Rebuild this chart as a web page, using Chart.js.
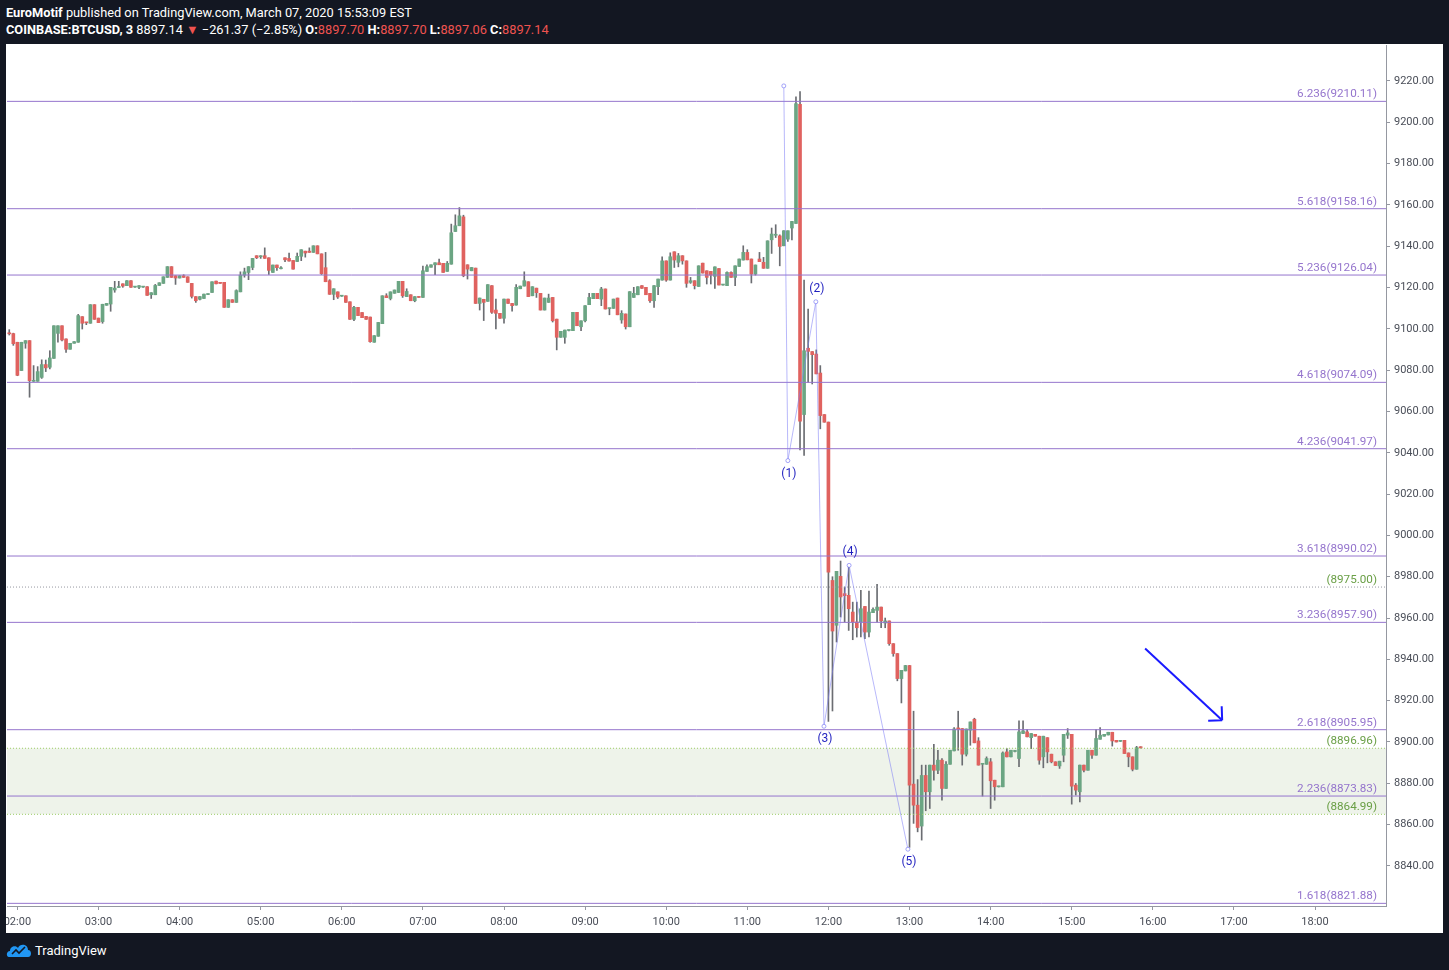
<!DOCTYPE html>
<html>
<head>
<meta charset="utf-8">
<script src="https://cdn.jsdelivr.net/npm/chart.js@4.4.1/dist/chart.umd.min.js"></script>
<style>
  html, body { margin: 0; padding: 0; background: #131722; width: 1449px; height: 970px; overflow: hidden; }
  #head { position: absolute; left: 6px; top: 4px; color: #fff; font: 12.8px Roboto, "Liberation Sans", sans-serif; line-height: 17px; white-space: nowrap; }
  #head b { font-weight: bold; }
  .dn { color: #ef5350; }
  #box { position: absolute; left: 6px; top: 44px; width: 1437px; height: 889px; background: #fff; }
  #box canvas { display: block; }
  #foot { position: absolute; left: 6px; top: 941px; color: #fff; font: 13px Roboto, "Liberation Sans", sans-serif; display: flex; align-items: center; }
  #foot svg { margin-right: 3px; }
</style>
</head>
<body>
<div id="head">
  <div><b>EuroMotif</b> published on TradingView.com, March 07, 2020 15:53:09 EST</div>
  <div><b>COINBASE:BTCUSD, 3</b> 8897.14 <span class="dn">▼</span> −261.37 (−2.85%) <b>O:</b><span class="dn">8897.70</span> <b>H:</b><span class="dn">8897.70</span> <b>L:</b><span class="dn">8897.06</span> <b>C:</b><span class="dn">8897.14</span></div>
</div>
<div id="box"><canvas id="chart" width="1437" height="889"></canvas></div>
<div id="foot">
  <svg width="26" height="18" viewBox="0 0 26 18">
    <path d="M3 16 C0 16 0 10 4 10 C4 5 10 4 12 7 C14 2 22 3 22 9 C26 9 26 16 22 16 Z" fill="#2196f3"/>
    <path d="M6 13 L10 9 L13 12 L19 6" stroke="#131722" stroke-width="1.6" fill="none"/>
  </svg>
  <span>TradingView</span>
</div>
<script>
// 3-minute candles, x in bar units where 0 = 02:00
const firstBar = -2;
const opens = [
  9097.9,9097.7,9093.5,9079.8,9093.0,9094.3,9074.6,9074.6,9076.5,9082.7,9081.4,9085.7,9097.8,9101.5,9095.1,9090.1,9093.0,9093.5,9105.9,9103.2,9102.7,9111.7,9105.2,9103.5,
  9111.4,9112.0,9118.8,9120.0,9121.8,9120.9,9123.3,9120.2,9120.1,9120.2,9120.4,9116.5,9116.5,9121.0,9122.0,9124.9,9130.1,9125.7,9124.6,9125.7,9125.2,9122.0,9115.6,9114.3,
  9114.7,9116.6,9117.6,9123.1,9122.5,9122.5,9110.4,9114.1,9112.8,9117.9,9126.0,9127.3,9129.7,9135.4,9134.9,9135.4,9134.4,9127.3,9130.9,9129.1,9134.4,9134.1,9133.1,
  9132.6,9135.1,9137.6,9137.6,9137.0,9140.2,9136.3,9129.6,9123.3,9116.7,9117.9,9115.8,9116.0,9113.1,9104.6,9110.4,9107.9,9106.0,9105.7,9093.5,9096.4,9102.5,9116.0,9114.7,
  9117.2,9117.6,9123.0,9115.6,9116.5,9113.6,9115.5,9115.2,9127.8,9129.8,9131.0,9132.0,9131.7,9127.8,9131.3,9147.1,9149.9,9154.2,9131.0,9128.1,9129.4,9112.3,9114.3,
  9113.3,9120.9,9109.1,9107.5,9105.1,9114.4,9112.3,9111.5,9119.4,9120.7,9122.8,9116.0,9119.7,9117.2,9109.1,9112.8,9115.2,9104.7,9095.9,9095.9,9099.2,9099.1,9108.0,
  9101.0,9103.9,9111.7,9114.6,9117.2,9114.4,9119.3,9109.8,9109.9,9114.9,9104.3,9107.2,9101.0,9115.2,9116.5,9120.9,9120.1,9117.2,9113.6,9120.4,9123.6,9132.9,9123.6,9137.3,9132.2,
  9135.4,9132.9,9122.5,9123.3,9120.5,9131.8,9128.1,9127.8,9125.4,9129.2,9121.2,9120.9,9127.3,9124.9,9130.2,9133.3,9137.0,9133.8,9126.5,9133.8,9132.2,9129.3,9143.1,9145.3,9145.0,
  9140.2,9143.4,9148.8,9151.0,9208.7,9058.5,9090.6,9089.0,9087.8,9078.6,9058.5,9054.8,
  8978.2,8956.5,8980.2,8971.8,8971.0,8962.9,8958.1,8958.1,8965.6,8953.2,8962.6,8963.7,8965.3,8957.6,8958.6,8947.6,8942.8,8930.7,8934.4,8937.0,
  8879.6,8869.4,8859.3,8883.8,8875.9,8888.8,8886.3,8891.2,8877.5,8889.2,8895.7,8906.8,8906.5,8894.1,8905.7,8911.0,8900.5,8889.2,8889.2,8890.4,8881.5,
  8878.3,8878.3,8895.2,8892.8,8895.4,8892.0,8904.1,8904.9,8902.1,8903.7,8902.8,8892.8,8902.1,8894.1,8890.4,8888.4,8893.6,8903.3,8903.7,8879.1,8875.9,8888.8,8886.3,8896.0,
  8893.6,8901.3,8902.8,8903.4,8904.7,8900.8,8900.3,8900.8,8894.7,8892.8,8886.8,8897.70
];
const highs = [
  9099.6,9097.9,9093.5,9093.5,9094.3,9094.3,9082.2,9081.7,9085.0,9084.9,9089.4,9101.5,9101.5,9101.5,9095.1,9093.0,9093.8,9107.0,9105.9,9103.2,9111.7,9111.7,9105.2,9111.9,
  9112.3,9120.1,9123.0,9123.0,9121.8,9123.3,9123.3,9120.4,9120.9,9120.4,9120.4,9117.5,9121.5,9122.3,9125.2,9130.1,9130.1,9125.7,9125.7,9126.2,9125.2,9122.0,9115.6,9115.6,
  9116.8,9116.9,9122.8,9123.1,9122.5,9122.5,9114.1,9114.1,9118.9,9127.6,9129.4,9130.1,9134.1,9135.4,9135.4,9139.2,9134.4,9130.9,9130.9,9130.1,9134.4,9136.7,9133.1,
  9136.7,9138.3,9137.6,9139.2,9140.2,9140.2,9136.3,9137.0,9123.8,9119.4,9117.9,9116.0,9116.0,9113.1,9110.9,9110.4,9107.9,9106.0,9105.7,9096.7,9103.1,9116.0,9117.0,9117.9,
  9118.8,9123.0,9123.0,9119.4,9116.5,9115.6,9115.6,9130.4,9131.0,9131.0,9132.0,9133.8,9131.7,9132.6,9150.7,9155.2,9158.7,9155.0,9131.0,9129.7,9129.4,9114.9,9114.3,
  9121.4,9120.9,9114.4,9107.5,9114.4,9114.4,9112.3,9121.4,9120.7,9127.6,9122.8,9120.4,9119.7,9117.2,9114.9,9116.8,9115.2,9104.7,9098.8,9099.4,9099.4,9108.0,9108.0,
  9103.9,9111.2,9117.2,9117.2,9117.2,9120.1,9119.3,9110.0,9114.4,9114.9,9108.8,9107.2,9118.0,9120.1,9120.4,9120.9,9120.1,9117.2,9120.9,9124.1,9134.9,9132.9,9136.8,9137.3,9136.5,
  9135.4,9132.9,9124.9,9123.3,9130.5,9131.8,9128.1,9127.8,9130.0,9129.2,9121.4,9127.6,9127.6,9130.5,9133.8,9140.2,9138.3,9133.8,9130.9,9137.0,9134.6,9142.6,9148.8,9150.4,9145.5,
  9147.5,9147.5,9152.0,9212.3,9214.8,9123.6,9109.6,9089.0,9089.8,9082.2,9058.5,9054.8,
  8980.0,8982.6,8987.6,8975.0,8985.5,8967.7,8967.7,8973.4,8965.6,8973.1,8965.0,8976.3,8965.3,8960.0,8958.6,8947.6,8942.8,8934.7,8937.1,8937.1,
  8914.9,8881.8,8888.8,8888.8,8888.8,8898.9,8896.0,8892.0,8890.5,8896.0,8907.0,8914.9,8906.5,8906.3,8909.7,8911.5,8902.1,8889.5,8892.8,8892.0,8881.5,
  8878.6,8895.2,8896.8,8896.0,8896.0,8910.2,8910.2,8906.0,8904.1,8903.7,8902.8,8902.8,8902.1,8894.1,8890.4,8890.7,8903.7,8906.5,8903.7,8879.9,8888.8,8888.8,8896.0,8896.0,
  8906.0,8907.0,8903.7,8904.7,8904.7,8900.8,8900.6,8900.8,8894.7,8892.8,8897.9,8897.70
];
const lows = [
  9097.0,9092.0,9077.3,9079.8,9090.6,9066.9,9074.5,9074.6,9076.0,9079.3,9080.6,9085.7,9093.5,9094.2,9088.6,9090.1,9093.0,9093.5,9099.9,9102.0,9102.7,9104.6,9103.0,9102.7,
  9111.4,9108.5,9117.7,9120.0,9120.1,9120.9,9120.1,9120.0,9119.4,9120.0,9116.2,9114.7,9116.5,9121.0,9122.0,9124.9,9124.9,9121.5,9124.6,9124.9,9122.5,9114.9,9112.8,9114.0,
  9114.7,9116.5,9117.6,9121.8,9122.0,9110.4,9110.4,9112.8,9112.8,9117.9,9125.0,9123.8,9128.6,9134.0,9134.1,9134.1,9126.3,9127.3,9128.3,9129.0,9132.5,9132.8,9128.9,
  9132.6,9133.0,9134.7,9137.0,9137.0,9136.3,9126.3,9122.8,9116.7,9114.1,9114.7,9115.7,9112.8,9104.6,9104.0,9106.4,9105.4,9104.6,9093.5,9093.5,9096.4,9102.5,9115.1,9114.0,
  9117.2,9117.6,9115.2,9115.6,9113.6,9113.1,9115.2,9115.2,9127.8,9129.8,9126.2,9131.0,9127.3,9127.8,9131.3,9147.1,9149.9,9125.2,9124.1,9128.1,9112.3,9109.1,9104.0,
  9113.3,9107.5,9099.9,9105.1,9102.7,9112.3,9108.5,9111.5,9119.4,9120.7,9115.6,9116.0,9115.2,9109.1,9109.1,9112.8,9103.3,9089.8,9095.9,9093.0,9099.0,9099.1,9101.5,
  9099.1,9103.4,9111.7,9114.6,9114.6,9111.2,9109.6,9106.8,9109.9,9106.8,9102.7,9099.9,9101.0,9115.2,9116.5,9119.6,9116.5,9112.8,9110.4,9116.5,9123.6,9123.0,9123.6,9129.7,9130.0,
  9131.3,9120.1,9122.0,9119.3,9120.5,9127.0,9121.7,9121.7,9119.6,9121.2,9121.1,9120.9,9124.9,9120.9,9130.2,9133.3,9133.4,9122.2,9126.0,9132.5,9129.3,9129.3,9136.5,9144.2,9130.5,
  9140.2,9142.3,9143.0,9151.0,9041.4,9038.7,9074.1,9073.3,9078.2,9051.6,9054.8,8910.0,
  8915.0,8948.4,8960.5,8958.1,8954.0,8949.5,8950.8,8950.8,8950.0,8950.8,8962.6,8958.1,8955.3,8955.3,8946.8,8941.5,8929.6,8918.9,8934.4,8849.0,
  8860.6,8856.5,8852.5,8866.7,8867.8,8881.5,8884.7,8871.8,8877.5,8889.2,8895.7,8896.0,8888.8,8893.2,8898.4,8899.6,8888.8,8873.8,8889.2,8867.8,8871.8,
  8878.2,8878.3,8892.8,8892.8,8895.2,8888.0,8904.0,8902.5,8896.8,8902.8,8889.2,8887.5,8889.9,8889.9,8888.6,8887.2,8890.4,8901.7,8869.9,8874.3,8871.0,8885.5,8886.3,8892.0,
  8893.6,8901.3,8902.8,8903.4,8898.0,8900.0,8900.2,8894.4,8888.0,8886.0,8886.8,8897.06
];
const closes = [
  9097.6,9092.8,9077.5,9093.5,9094.3,9074.9,9074.9,9079.3,9082.7,9081.1,9085.9,9101.5,9101.5,9094.6,9090.1,9093.0,9093.8,9106.4,9102.7,9102.9,9111.7,9104.6,9103.0,9111.9,
  9112.3,9120.1,9119.7,9120.3,9120.7,9123.3,9120.1,9120.3,9120.9,9120.3,9116.2,9117.5,9121.0,9122.3,9125.2,9130.1,9124.9,9124.6,9125.7,9124.9,9122.5,9115.7,9113.6,9115.6,
  9116.8,9116.8,9122.8,9121.8,9122.0,9110.4,9114.1,9112.8,9118.5,9126.0,9127.6,9130.1,9134.1,9134.4,9135.2,9134.1,9128.3,9130.9,9129.6,9129.2,9133.4,9132.8,9128.9,
  9135.1,9138.3,9136.7,9137.0,9140.2,9136.3,9126.7,9122.8,9116.7,9119.4,9115.4,9115.9,9112.8,9104.6,9110.4,9106.4,9105.4,9104.6,9093.8,9096.7,9103.1,9116.0,9115.1,9117.9,
  9118.8,9123.0,9116.0,9118.1,9113.6,9115.6,9115.2,9128.1,9130.1,9131.0,9132.0,9131.0,9127.3,9131.7,9146.5,9149.9,9154.7,9125.7,9128.9,9129.7,9112.3,9114.9,9112.8,
  9121.4,9108.0,9107.5,9105.1,9114.4,9112.3,9111.2,9120.1,9120.7,9123.3,9115.6,9120.4,9117.5,9109.1,9114.9,9114.9,9103.9,9095.9,9098.8,9099.4,9099.3,9108.0,9101.5,
  9103.9,9111.2,9115.2,9117.2,9114.6,9119.3,9109.6,9109.9,9114.4,9106.8,9107.5,9101.0,9118.0,9117.2,9120.4,9119.6,9116.5,9113.6,9120.9,9124.1,9132.9,9123.6,9134.9,9133.3,9135.4,
  9132.9,9122.0,9123.3,9120.9,9130.5,9127.0,9124.9,9126.0,9130.0,9121.2,9121.3,9127.3,9124.9,9130.5,9133.8,9137.0,9133.4,9126.5,9130.9,9132.5,9129.3,9142.6,9145.9,9145.6,9139.9,
  9147.5,9147.5,9152.0,9209.0,9055.3,9089.4,9089.1,9087.5,9078.2,9058.0,9054.8,8982.2,
  8953.7,8982.6,8970.2,8970.8,8964.5,8958.1,8955.3,8964.5,8953.2,8962.9,8964.2,8965.3,8958.6,8958.6,8947.6,8942.8,8930.7,8934.7,8937.0,8879.1,
  8869.4,8858.6,8883.8,8875.9,8888.8,8886.3,8891.2,8877.5,8889.2,8896.0,8906.3,8906.2,8894.1,8906.3,8909.7,8899.6,8888.8,8889.3,8892.0,8881.2,8878.3,
  8878.5,8894.7,8892.8,8896.0,8895.8,8904.9,8905.4,8902.5,8904.1,8902.8,8891.2,8902.8,8895.2,8890.4,8888.6,8890.7,8903.7,8904.4,8878.6,8876.7,8888.8,8886.3,8896.0,8893.6,
  8901.7,8903.3,8903.7,8904.7,8900.5,8900.0,8900.5,8894.4,8892.8,8886.8,8897.3,8897.14
];

// axis ticks
const hourLabels = ['02:00','03:00','04:00','05:00','06:00','07:00','08:00','09:00','10:00','11:00','12:00','13:00','14:00','15:00','16:00','17:00','18:00'];
const priceTicks = [8840,8860,8880,8900,8920,8940,8960,8980,9000,9020,9040,9060,9080,9100,9120,9140,9160,9180,9200,9220];

// fib extension levels
const fibRatios = ['1.618','2.236','2.618','3.236','3.618','4.236','4.618','5.236','5.618','6.236'];
const fibPrices = [8821.88,8873.83,8905.95,8957.90,8990.02,9041.97,9074.09,9126.04,9158.16,9210.11];

// horizontal ray and zone
const rayPrice = 8975.00;
const zoneTop = 8896.96;
const zoneBottom = 8864.99;

// elliott wave count
const waveX = [189.0, 190.0, 196.9, 198.9, 205.1, 219.6];
const waveY = [9217.6, 9036.2, 9113.1, 8907.6, 8985.5, 8848.1];
const waveLabels = ['', '(1)', '(2)', '(3)', '(4)', '(5)'];

// arrow
const arrowX = [278.1, 297.1];
const arrowY = [8945.3, 8910.5];

const xMin = -2.56, xMax = 337.5;
const yMin = 8820.6, yMax = 9237.4;

const UP = '#6ba583', DOWN = '#e0625f', WICK = '#6b6d72';
const FIB = '#9575cd', GREEN = '#6a9f46';

const bars = closes.map((c, i) => firstBar + i);

const datasets = [];
datasets.push({
  type: 'bar', order: 6, grouped: false, barThickness: 1,
  data: bars.map((x, i) => ({ x: x, y: [lows[i], highs[i]] })),
  backgroundColor: WICK
});
datasets.push({
  type: 'bar', order: 5, grouped: false, barThickness: 3, minBarLength: 1,
  data: bars.map((x, i) => ({ x: x, y: [opens[i], closes[i]] })),
  backgroundColor: closes.map((c, i) => c >= opens[i] ? UP : DOWN)
});
fibPrices.forEach(p => {
  datasets.push({
    type: 'line', order: 3, borderColor: FIB, borderWidth: 1, pointRadius: 0,
    data: [{ x: xMin, y: p }, { x: xMax, y: p }]
  });
});
datasets.push({
  type: 'line', order: 4, borderColor: '#9598a1', borderWidth: 1, borderDash: [1, 2], pointRadius: 0,
  data: [{ x: xMin, y: rayPrice }, { x: xMax, y: rayPrice }]
});
[zoneTop, zoneBottom].forEach(p => {
  datasets.push({
    type: 'line', order: 4, borderColor: '#9ccc65', borderWidth: 1, borderDash: [1, 2], pointRadius: 0,
    data: [{ x: xMin, y: p }, { x: xMax, y: p }]
  });
});
datasets.push({
  type: 'line', order: 1, borderColor: 'rgba(125,125,245,0.55)', borderWidth: 1,
  pointRadius: 2, pointBackgroundColor: '#fff', pointBorderColor: 'rgba(125,125,245,0.7)', pointBorderWidth: 1,
  data: waveX.map((x, i) => ({ x: x, y: waveY[i] }))
});
datasets.push({
  type: 'line', order: 0, borderColor: '#1a1aff', borderWidth: 2, pointRadius: 0,
  data: arrowX.map((x, i) => ({ x: x, y: arrowY[i] }))
});

const drawings = {
  id: 'drawings',
  beforeDatasetsDraw(chart) {
    const { ctx, chartArea: a, scales: { x, y } } = chart;
    const t = y.getPixelForValue(zoneTop), b = y.getPixelForValue(zoneBottom);
    ctx.save();
    ctx.fillStyle = 'rgba(85,135,45,0.1)';
    ctx.fillRect(a.left, t, a.right - a.left, b - t);
    ctx.restore();
  },
  afterDatasetsDraw(chart) {
    const { ctx, chartArea: a, scales: { x, y } } = chart;
    ctx.save();
    ctx.font = '11.7px Roboto, "Liberation Sans", sans-serif';
    ctx.textAlign = 'right';
    ctx.textBaseline = 'alphabetic';
    const rx = a.right - 9;
    ctx.fillStyle = FIB;
    fibPrices.forEach((p, i) => {
      ctx.fillText(fibRatios[i] + '(' + p.toFixed(2) + ')', rx, y.getPixelForValue(p) - 4);
    });
    ctx.fillStyle = GREEN;
    [rayPrice, zoneTop, zoneBottom].forEach(p => {
      ctx.fillText('(' + p.toFixed(2) + ')', rx, y.getPixelForValue(p) - 4);
    });
    // wave labels
    ctx.font = '12px Roboto, "Liberation Sans", sans-serif';
    ctx.textAlign = 'center';
    ctx.textBaseline = 'middle';
    ctx.fillStyle = '#1f1fbf';
    waveLabels.forEach((s, i) => {
      if (!s) return;
      const px = x.getPixelForValue(waveX[i]), py = y.getPixelForValue(waveY[i]);
      ctx.fillText(s, px + 1, py + (i % 2 ? 13 : -13));
    });
    // arrow head
    const x0 = x.getPixelForValue(arrowX[0]), y0 = y.getPixelForValue(arrowY[0]);
    const x1 = x.getPixelForValue(arrowX[1]), y1 = y.getPixelForValue(arrowY[1]);
    const ang = Math.atan2(y1 - y0, x1 - x0);
    ctx.strokeStyle = '#1a1aff';
    ctx.lineWidth = 2;
    ctx.beginPath();
    [Math.PI * 0.75, -Math.PI * 0.75].forEach(d => {
      ctx.moveTo(x1, y1);
      ctx.lineTo(x1 + 14 * Math.cos(ang + d), y1 + 14 * Math.sin(ang + d));
    });
    ctx.stroke();
    ctx.restore();
  }
};

new Chart(document.getElementById('chart'), {
  type: 'bar',
  data: { datasets: datasets },
  plugins: [drawings],
  options: {
    responsive: false,
    animation: false,
    events: [],
    layout: { autoPadding: false, padding: { left: 1, top: 1, right: 0, bottom: 0 } },
    plugins: { legend: { display: false }, tooltip: { enabled: false } },
    scales: {
      x: {
        type: 'linear', position: 'bottom', min: xMin, max: xMax, offset: false,
        afterBuildTicks: s => { s.ticks = hourLabels.map((_, i) => ({ value: i * 20 })); },
        afterFit: s => { s.height = 27; s.paddingLeft = 0; s.paddingRight = 0; },
        ticks: {
          autoSkip: false, maxRotation: 0, padding: 6, color: '#4a4e58',
          font: { family: 'Roboto, "Liberation Sans", sans-serif', size: 11 },
          callback: v => hourLabels[Math.round(v / 20)]
        },
        grid: { drawOnChartArea: false, offset: false, tickLength: 4, color: '#9598a1' },
        border: { color: '#9598a1' }
      },
      y: {
        type: 'linear', position: 'right', min: yMin, max: yMax,
        afterBuildTicks: s => { s.ticks = priceTicks.map(v => ({ value: v })); },
        afterFit: s => { s.width = 57; s.paddingTop = 0; s.paddingBottom = 0; },
        ticks: {
          padding: 4, color: '#4a4e58',
          font: { family: 'Roboto, "Liberation Sans", sans-serif', size: 11 },
          callback: v => v.toFixed(2)
        },
        grid: { drawOnChartArea: false, tickLength: 4, color: '#9598a1' },
        border: { color: '#9598a1' }
      }
    }
  }
});
</script>
</body>
</html>
